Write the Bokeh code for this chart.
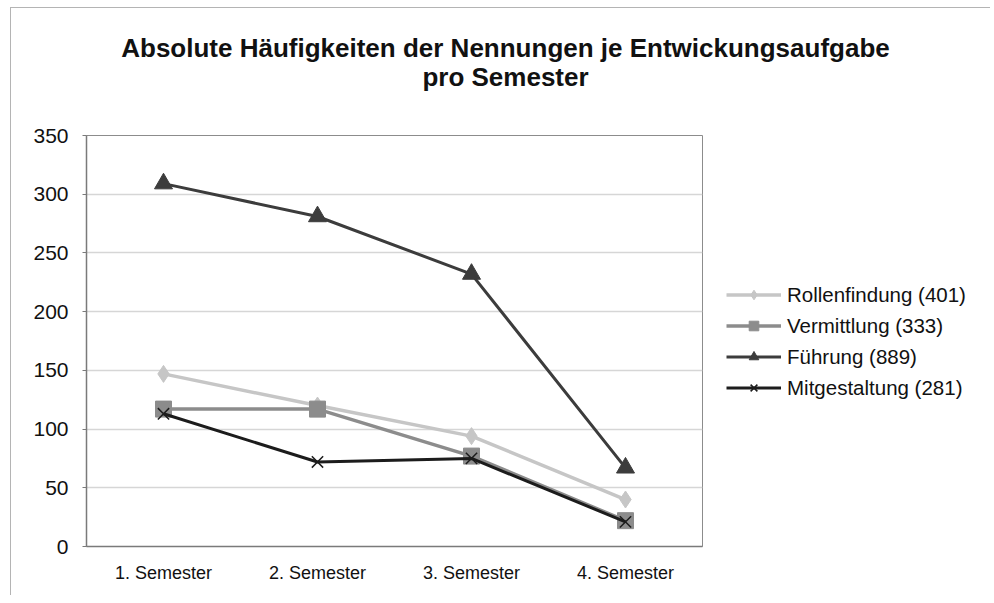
from bokeh.plotting import figure
from bokeh.layouts import column
from bokeh.models import Legend, LegendItem, FixedTicker
from bokeh.core.properties import value
from bokeh.embed import file_html
from bokeh.resources import INLINE

semesters = ["1. Semester", "2. Semester", "3. Semester", "4. Semester"]
rollenfindung = [147, 120, 94, 40]
vermittlung = [117, 117, 77, 22]
fuehrung = [309, 281, 232, 67]
mitgestaltung = [113, 72, 75, 21]
series_names = ["Rollenfindung (401)", "Vermittlung (333)", "Führung (889)", "Mitgestaltung (281)"]
y_ticks = [0, 50, 100, 150, 200, 250, 300, 350]
title_lines = ["Absolute Häufigkeiten der Nennungen je Entwickungsaufgabe", "pro Semester"]

FONT = "Liberation Sans"
FRAME = "#b4b4b4"

# ---- title strip ----
TW, TH = 990, 120
t = figure(width=TW, height=TH, x_range=(0, TW), y_range=(TH, 0),
           x_axis_type=None, y_axis_type=None, output_backend="svg", toolbar_location=None,
           min_border=0)
t.frame_align = False
t.outline_line_color = None
t.grid.visible = False
t.background_fill_color = None
t.border_fill_color = None
t.styles = {"background": f"linear-gradient({FRAME},{FRAME}) 10px 7px / 100% 1px no-repeat, "
                          f"linear-gradient({FRAME},{FRAME}) 10px 7px / 1px 100% no-repeat, white"}
t.text(x=[505, 505], y=[47, 76], text=title_lines, text_align="center", text_baseline="alphabetic",
       text_font=value(FONT), text_font_style="bold", text_font_size="26px", text_color="#111111")

# ---- chart ----
p = figure(x_range=semesters, y_range=(0, 350), frame_width=616, frame_height=411,
           output_backend="svg", toolbar_location=None,
           min_border_left=86, min_border_right=0, min_border_top=15, min_border_bottom=49)
p.frame_align = False
p.background_fill_color = "white"
p.border_fill_color = None
p.styles = {"background": f"linear-gradient({FRAME},{FRAME}) 10px 0 / 1px 100% no-repeat, white"}
p.outline_line_color = "#8c8c8c"
p.outline_line_width = 1
p.x_range.range_padding = 0

p.xgrid.grid_line_color = None
p.ygrid.grid_line_color = "#d6d6d6"
p.ygrid.grid_line_width = 1.5
p.yaxis.ticker = FixedTicker(ticks=y_ticks)
p.yaxis.axis_line_color = "#7a7a7a"
p.yaxis.axis_line_width = 1.5
p.yaxis.major_tick_line_color = "#7a7a7a"
p.yaxis.major_tick_out = 4
p.yaxis.major_tick_in = 0
p.yaxis.minor_tick_line_color = None
p.yaxis.major_label_text_font = FONT
p.yaxis.major_label_text_font_size = "21px"
p.yaxis.major_label_text_color = "#111111"
p.yaxis.major_label_standoff = 14
p.xaxis.axis_line_color = "#7a7a7a"
p.xaxis.axis_line_width = 1.5
p.xaxis.major_tick_line_color = None
p.xaxis.major_tick_out = 0
p.xaxis.major_label_text_font = FONT
p.xaxis.major_label_text_font_size = "18px"
p.xaxis.major_label_text_color = "#111111"
p.xaxis.major_label_standoff = 16

r1l = p.line(semesters, rollenfindung, line_color="#c6c6c6", line_width=3.5)
r1m = p.scatter(semesters, rollenfindung, marker="diamond", size=17, fill_color="#c6c6c6", line_color="#c6c6c6")
r2l = p.line(semesters, vermittlung, line_color="#8c8c8c", line_width=3.5)
r2m = p.scatter(semesters, vermittlung, marker="square", size=16, fill_color="#8c8c8c", line_color="#8c8c8c")
r3l = p.line(semesters, fuehrung, line_color="#3c3c3c", line_width=3)
r3m = p.scatter(semesters, fuehrung, marker="triangle", size=18, fill_color="#3c3c3c", line_color="#3c3c3c")
r4l = p.line(semesters, mitgestaltung, line_color="#1c1c1c", line_width=3)
r4m = p.scatter(semesters, mitgestaltung, marker="x", size=16, line_color="#1c1c1c", line_width=1.5)

legend = Legend(items=[
    LegendItem(label=series_names[0], renderers=[r1l, r1m]),
    LegendItem(label=series_names[1], renderers=[r2l, r2m]),
    LegendItem(label=series_names[2], renderers=[r3l, r3m]),
    LegendItem(label=series_names[3], renderers=[r4l, r4m]),
], location="left")
legend.border_line_color = None
legend.background_fill_alpha = 0
legend.label_text_font = FONT
legend.label_text_font_size = "20.5px"
legend.label_text_color = "#111111"
legend.glyph_width = 55
legend.glyph_height = 24
legend.spacing = 7
legend.margin = 24
legend.padding = 8
legend.label_standoff = 6
p.add_layout(legend, "right")

layout = column(t, p, spacing=0)
open("out.html", "w").write(file_html(layout, INLINE))
